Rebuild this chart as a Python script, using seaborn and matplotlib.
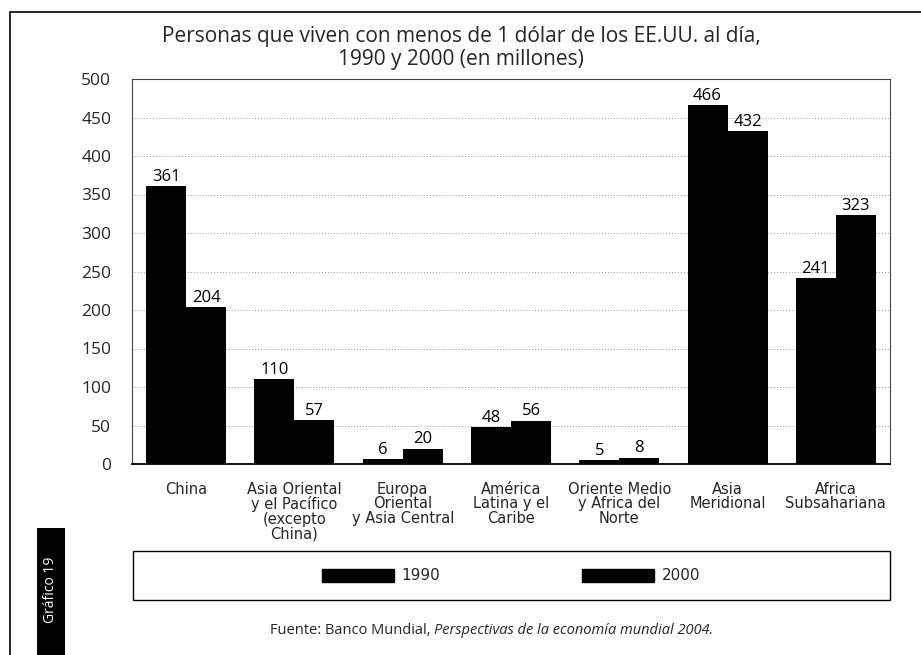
import matplotlib
matplotlib.use("Agg")
import matplotlib.pyplot as plt
import seaborn as sns
import pandas as pd
from matplotlib.patches import Patch, Rectangle
from matplotlib.lines import Line2D

# Data (millions of people)
regions = [
    "China",
    "Asia Oriental\ny el Pacífico\n(excepto\nChina)",
    "Europa\nOriental\ny Asia Central",
    "América\nLatina y el\nCaribe",
    "Oriente Medio\ny Africa del\nNorte",
    "Asia\nMeridional",
    "Africa\nSubsahariana",
]
values_1990 = [361, 110, 6, 48, 5, 466, 241]
values_2000 = [204, 57, 20, 56, 8, 432, 323]
years = ["1990", "2000"]

df = pd.DataFrame({
    "region": regions * 2,
    "year": [years[0]] * len(regions) + [years[1]] * len(regions),
    "value": values_1990 + values_2000,
})

sns.set_style("white")
plt.rcParams["font.family"] = ["Open Sans", "DejaVu Sans"]

W, H = 921, 655
fig = plt.figure(figsize=(W / 100, H / 100), dpi=100)

# plot area in pixel coords: x 132..890, y 79..464
ax = fig.add_axes([132 / W, 1 - 464 / H, (890 - 132) / W, (464 - 79) / H])

sns.barplot(data=df, x="region", y="value", hue="year",
            palette=["black", "black"], width=0.74, saturation=1,
            edgecolor="black", linewidth=0, legend=False, ax=ax)

for cont in ax.containers:
    ax.bar_label(cont, fontsize=12, padding=1, color="black")

ax.set_ylim(0, 500)
ax.set_xlim(-0.5, len(regions) - 0.5)
ax.set_yticks(range(0, 501, 50))
ax.tick_params(axis="y", labelsize=12.5, length=12, width=0.6, color="#999999", pad=3)
ax.yaxis.grid(True, linestyle=(0, (1, 2)), color="#999999", linewidth=0.7)
ax.set_axisbelow(True)

# category boundaries as major ticks, labels at centres as minor ticks
ax.set_xticks([i - 0.5 for i in range(len(regions) + 1)])
ax.set_xticklabels([])
ax.set_xticks(range(len(regions)), minor=True)
ax.set_xticklabels(regions, minor=True, linespacing=0.95,
                   family=["Liberation Sans Narrow", "DejaVu Sans"], fontsize=10.5)
ax.tick_params(axis="x", which="major", length=12, width=0.9, color="black", direction="out")
ax.tick_params(axis="x", which="minor", length=0, pad=13)
ax.set_xlabel("")
ax.set_ylabel("")

for side in ["top", "right", "left"]:
    ax.spines[side].set_visible(True)
    ax.spines[side].set_color("#444444")
    ax.spines[side].set_linewidth(0.8)
ax.spines["left"].set_linestyle((0, (2, 1)))
ax.spines["bottom"].set_color("black")
ax.spines["bottom"].set_linewidth(1.3)

# title
fig.text(461 / W, 1 - 48 / H, "Personas que viven con menos de 1 dólar de los EE.UU. al día,\n"
         "1990 y 2000 (en millones)", ha="center", va="center",
         fontsize=15, linespacing=1.15)

# legend with its own box
fig.add_artist(Rectangle((133 / W, 1 - 600 / H), (890 - 133) / W, 49 / H,
                         transform=fig.transFigure, fill=False,
                         edgecolor="black", linewidth=1))
handles = [Patch(facecolor="black", edgecolor="black", label=y) for y in years]
fig.legend(handles=handles, loc="center", bbox_to_anchor=(511 / W, 1 - 576 / H),
           ncol=2, frameon=False, handlelength=4.7, handleheight=0.9,
           columnspacing=9.3, handletextpad=0.5,
           prop={"family": ["Liberation Sans Narrow", "DejaVu Sans"], "size": 11})

# source line, regular part and italic part
fig.text(434 / W, 1 - 630 / H, "Fuente: Banco Mundial, ", ha="right", va="center",
         fontsize=10.5)
fig.text(434 / W, 1 - 630 / H, "Perspectivas de la economía mundial 2004.",
         ha="left", va="center", fontsize=10.5, style="italic")

# outer frame lines
fig.add_artist(Line2D([10 / W, 10 / W], [0, 1 - 12 / H], transform=fig.transFigure,
                      color="black", linewidth=1.2))
fig.add_artist(Line2D([10 / W, 1], [1 - 12 / H, 1 - 12 / H], transform=fig.transFigure,
                      color="black", linewidth=1.2))

# side tag
fig.add_artist(Rectangle((37 / W, 0), 28 / W, 1 - 528 / H, transform=fig.transFigure,
                         facecolor="black", edgecolor="none"))
fig.text(51 / W, 1 - 590 / H, "Gráfico 19", rotation=90, ha="center", va="center",
         color="white", fontsize=10)

fig.savefig("out.png", dpi=100)
